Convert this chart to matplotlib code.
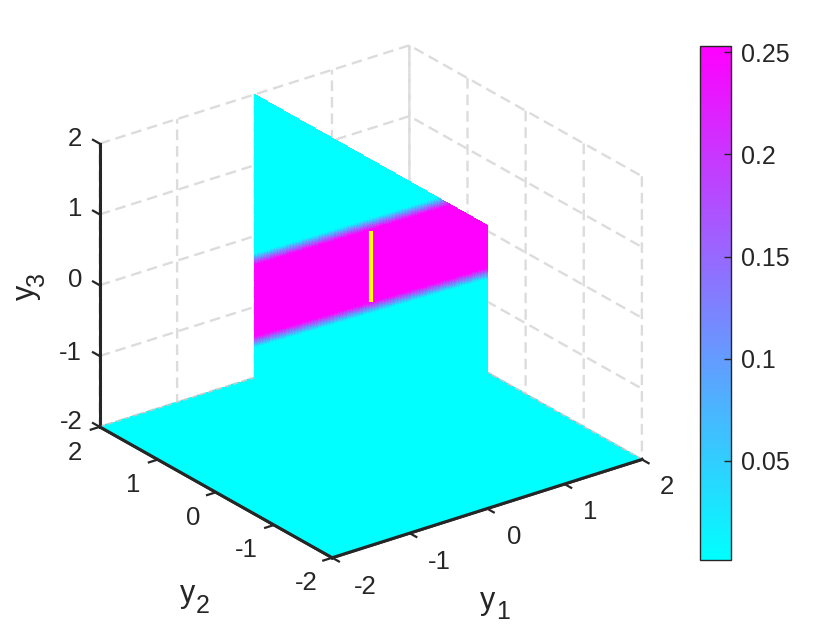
import numpy as np
import matplotlib
matplotlib.use('Agg')
import matplotlib.pyplot as plt
from matplotlib import cm
from matplotlib.colors import Normalize

plt.rcParams['font.family'] = ['Liberation Sans']
plt.rcParams['mathtext.default'] = 'regular'
plt.rcParams['axes.unicode_minus'] = False

# values
axis_ticks = [-2, -1, 0, 1, 2]
cbar_ticks = [0.05, 0.1, 0.15, 0.2, 0.25]
cbar_labels = ['0.05', '0.1', '0.15', '0.2', '0.25']
density_min = 0.0015
density_max = 0.253

# band on the y1=0 plane: lower and upper edge in y3 at y2=-2 and y2=2
band_y2 = [-2, 2]
band_low = [1.31, -1.51]
band_high = [2.51, -0.34]
band_blur = 0.08
band_level = [density_min, density_max]

# yellow segment
seg_y1 = [0, 0]
seg_y2 = [0, 0]
seg_y3 = [0, 1]

dark = '#262626'
grid_col = '#dcdcdc'
grid_dash = (0, (4.5, 2.5))

fig = plt.figure(figsize=(8.4, 6.3), dpi=100)
ax = fig.add_axes([-0.0721, -0.1633, 1.0, 1.0 * 840 / 630], projection='3d', computed_zorder=False)
ax.set_proj_type('ortho')
ax.view_init(elev=25, azim=-126.9)
ax.set_box_aspect((1, 1, 0.807), zoom=0.7287)
ax.patch.set_alpha(0)

norm = Normalize(density_min, density_max)
cmap = matplotlib.colormaps['cool']

# floor
fx, fy = np.meshgrid([-2, 2], [-2, 2])
fz = np.full_like(fx, -2.0, dtype=float)
ax.plot_surface(fx, fy, fz, color=cmap(norm(density_min)), shade=False, linewidth=0,
                antialiased=False, zorder=1)

# back edges of the floor still show a bit of grid
ax.plot([-2, 2], [2, 2], [-2, -2], color='#c8c8c8', lw=0.9, ls=grid_dash, zorder=1.5)
ax.plot([2, 2], [-2, 2], [-2, -2], color='#c8c8c8', lw=0.9, ls=grid_dash, zorder=1.5)

# vertical plane at y1=0
yy, zz = np.meshgrid(np.linspace(-2, 2, 161), np.linspace(-2, 2, 241))
low = np.interp(yy, band_y2, band_low)
high = np.interp(yy, band_y2, band_high)
lower = np.interp(zz - low, [-band_blur, band_blur], band_level)
upper = np.interp(high - zz, [-band_blur, band_blur], band_level)
dens = np.minimum(lower, upper)
ax.plot_surface(np.zeros_like(yy), yy, zz, facecolors=cmap(norm(dens)), rstride=1, cstride=1,
                shade=False, linewidth=0, antialiased=False, zorder=2)

ax.plot(seg_y1, seg_y2, seg_y3, color='#ffff00', lw=3, solid_capstyle='butt', zorder=3)

# the floor hides the real axis lines, so redraw them on top
ax.plot([-2, 2], [-2, -2], [-2, -2], color=dark, lw=2.2, zorder=4)
ax.plot([-2, -2], [-2, 2], [-2, -2], color=dark, lw=2.2, zorder=4)

ax.set_xlim(-2, 2, view_margin=0)
ax.set_ylim(-2, 2, view_margin=0)
ax.set_zlim(-2, 2, view_margin=0)
ax.set_xticks(axis_ticks)
ax.set_yticks(axis_ticks)
ax.set_zticks(axis_ticks)
ax.set_xticklabels([])
ax.set_yticklabels([])
ax.set_zticklabels([])
ax.tick_params(color=dark)

for a in (ax.xaxis, ax.yaxis, ax.zaxis):
    a.set_pane_color((1, 1, 1, 0))
    a.pane.set_edgecolor((1, 1, 1, 0))
    a.line.set_color(dark)
    a.line.set_linewidth(2.2)
    a._axinfo['grid'].update(color=grid_col, linewidth=1.7, linestyle=grid_dash)
    a._axinfo['tick'].update(inward_factor=0.0, outward_factor=-0.36)
    a._axinfo['tick']['linewidth'] = {True: 1.6, False: 1.0}

# z ticks point along y2 in the reference
ax.zaxis._get_tickdir = lambda pos: 1
ax.zaxis._axinfo['tick'].update(inward_factor=0.0, outward_factor=0.36)

# axis text goes where the reference has it (pixels from top left)
def put(px, py, s, **kw):
    fig.text(px / 840, 1 - py / 630, s, ha='center', va='center', color=dark, **kw)

x_label_pos = [(365, 587), (439, 562), (514, 537), (590, 512), (667, 487)]
y_label_pos = [(306, 583), (246, 550), (193, 518), (133, 485), (75, 453)]
z_label_pos = [(71, 422), (70, 353), (75, 280), (75, 209), (75, 139)]
for v, p, q, r in zip(axis_ticks, x_label_pos, y_label_pos, z_label_pos):
    put(p[0], p[1], str(v), fontsize=18.5)
    put(q[0], q[1], str(v), fontsize=18.5)
    put(r[0], r[1], str(v), fontsize=18.5)

# y and its index are separate texts, the index is larger than mathtext gives
put(488, 601, 'y', fontsize=22)
put(503, 612, '1', fontsize=18)
put(188, 594, 'y', fontsize=22)
put(203, 606, '2', fontsize=18)
put(26, 292, 'y', fontsize=22, rotation=90)
put(37, 279, '3', fontsize=18, rotation=90)

# colorbar
cax = fig.add_axes([700 / 840, (630 - 560) / 630, 31 / 840, 514 / 630])
cb = fig.colorbar(cm.ScalarMappable(norm=norm, cmap=cmap), cax=cax)
cb.set_ticks(cbar_ticks, labels=cbar_labels)
cax.tick_params(direction='in', length=5, width=1, color=dark, labelcolor=dark, labelsize=18, pad=7)
cb.outline.set_edgecolor(dark)
cb.outline.set_linewidth(1)

fig.savefig('out.png', dpi=100)
